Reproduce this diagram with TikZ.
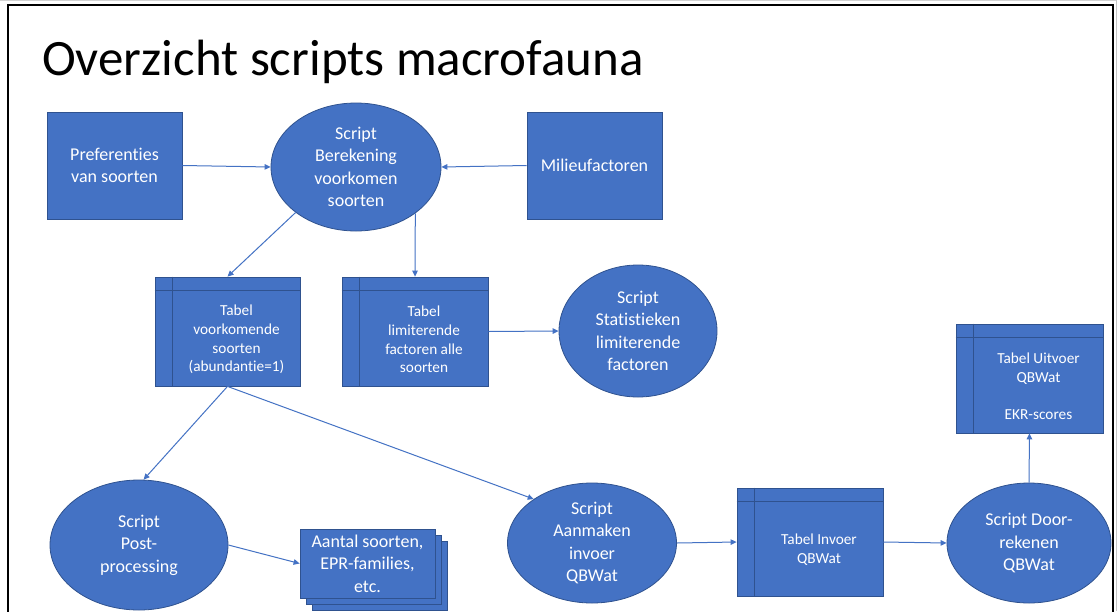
\documentclass[tikz,border=0pt]{standalone}
\usepackage{fontspec}
\setmainfont{Carlito}[Ligatures=NoCommon]
\usetikzlibrary{shapes.geometric,arrows.meta,calc}
\definecolor{obl}{HTML}{4472C4}
\definecolor{odk}{HTML}{2F528F}
\newcommand{\bodyfont}{\fontsize{18}{22.5}\selectfont}
\newcommand{\tabfont}{\fontsize{15.3}{18.8}\selectfont}
% table symbol: box with a header row and a narrow first column
\newcommand{\tabnode}[6]{%
  \node[tab, minimum width=#4, minimum height=#5] (#1) at (#2,#3) {};
  \draw[tline] ($(#1.north west)+(0,14)$) -- ($(#1.north east)+(0,14)$);
  \draw[tline] ($(#1.north west)+(18,0)$) -- ($(#1.south west)+(18,0)$);
  \node[tabtxt] (#1-t) at ($(#1.center)+(9,8)$) {#6};}
\begin{document}
\begin{tikzpicture}[x=1pt,y=-1pt,
  box/.style={rectangle,draw=odk,fill=obl,line width=0.8pt,text=white,inner sep=0pt,align=center,font=\bodyfont},
  oval/.style={ellipse,draw=odk,fill=obl,line width=0.8pt,text=white,inner sep=0pt,align=center,font=\bodyfont},
  tab/.style={rectangle,draw=odk,fill=obl,line width=0.8pt,inner sep=0pt},
  tabtxt/.style={text=white,align=center,font=\tabfont,inner sep=0pt},
  tline/.style={draw=odk,line width=0.8pt},
  conn/.style={draw=obl,line width=1pt,-{Triangle[length=6pt,width=5.5pt]}}]
\useasboundingbox (0,0) rectangle (1117,611);
\fill[white] (0,0) rectangle (1117,611);
% slide frame
\draw[gray!35, line width=1pt] (0,0.5) -- (1117,0.5);
\draw[gray!45, line width=1pt] (1116,0) -- (1116,611);
\draw[black, line width=1.6pt] (8,5) rectangle (1113,640);
\node[anchor=base west, inner sep=0pt, font=\fontsize{51}{60}\selectfont] (title) at (42,75) {Overzicht scripts macrofauna};

% inputs and first script
\node[box, minimum width=135, minimum height=107] (pref) at (114.5,165.5) {Preferenties\\van soorten};
\node[oval, minimum width=170, minimum height=128] (calc) at (356,167) {Script\\Berekening\\voorkomen\\soorten};
\node[box, minimum width=135, minimum height=107] (milieu) at (594.5,165.5) {Milieufactoren};

% tables
\tabnode{tabV}{227.5}{331.5}{145}{109}{Tabel\\voorkomende\\soorten\\(abundantie=1)}
\tabnode{tabL}{415}{331.5}{146}{109}{Tabel\\limiterende\\factoren alle\\soorten}
\tabnode{tabU}{1029.5}{378.5}{147}{109}{Tabel Uitvoer\\QBWat\\[18.8pt]EKR-scores}
\tabnode{tabI}{810}{542}{146}{108}{Tabel Invoer\\QBWat}

\node[oval, minimum width=158, minimum height=132] (stat) at (638,331) {Script\\Statistieken\\limiterende\\factoren};
\node[oval, minimum width=178, minimum height=130] (post) at (139,545) {Script\\Post-\\processing};
\node[oval, minimum width=169, minimum height=120] (make) at (592,543) {Script\\Aanmaken\\invoer\\QBWat};
\node[oval, minimum width=164, minimum height=120] (door) at (1029,543) {Script Door-\\rekenen\\QBWat};

% stacked result documents
\node[box, minimum width=135, minimum height=69] (stack3) at (379.5,575.5) {};
\node[box, minimum width=135, minimum height=69] (stack2) at (373.5,569.5) {};
\node[box, minimum width=135, minimum height=69] (stack) at (367.5,563.5) {Aantal soorten,\\EPR-families,\\etc.};

% connectors
\draw[conn] (pref.east) -- (calc.west);
\draw[conn] (milieu.west) -- (calc.east);
\draw[conn] (calc.217) -- (tabV.north);
\draw[conn] (calc.-38) -- (tabL.north);
\draw[conn] (tabL.east) -- (stat.west);
\draw[conn] (tabV.south) -- (post.86);
\draw[conn] (tabV.south) -- (make.143);
\draw[conn] (post.east) -- (stack.west);
\draw[conn] (make.east) -- (tabI.west);
\draw[conn] (tabI.east) -- (door.west);
\draw[conn] (door.north) -- (tabU.south);
\end{tikzpicture}
\end{document}
